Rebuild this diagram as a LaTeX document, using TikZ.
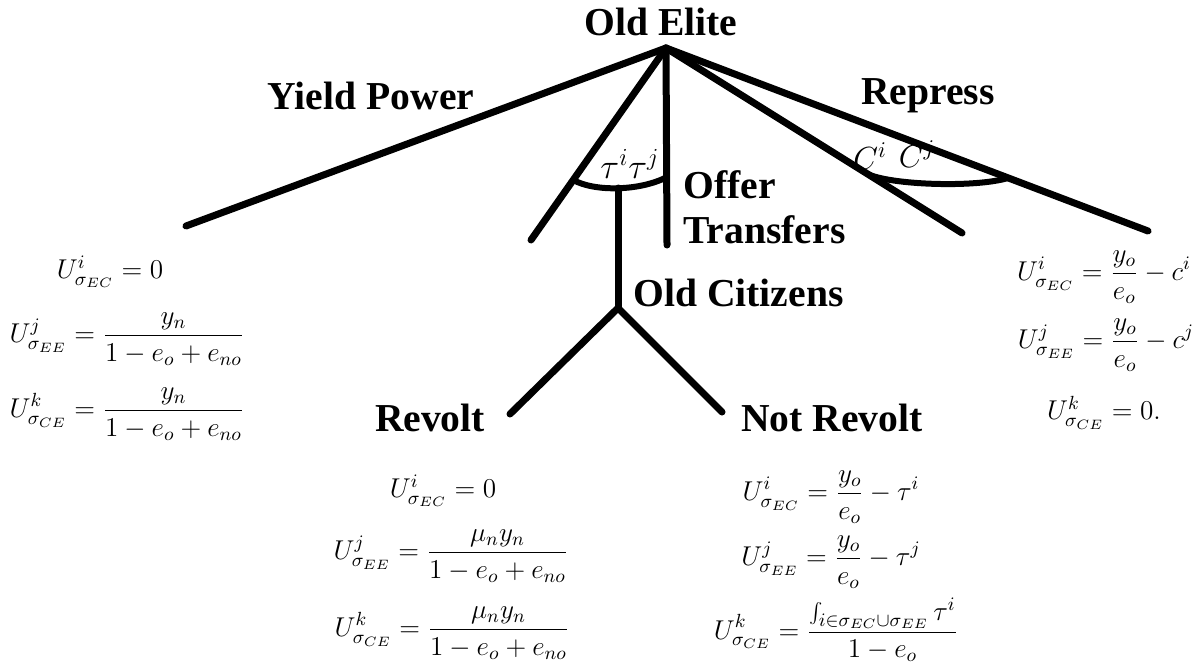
\RequirePackage{fix-cm}
\documentclass[tikz,border=0pt]{standalone}
\usepackage{fontspec}
\newfontfamily\labfont{Liberation Serif}
\usetikzlibrary{calc}
\tikzset{
  branch/.style={line width=3.5pt, line cap=round},
  arcline/.style={line width=3pt, line cap=round},
  lab/.style={font=\labfont\bfseries\fontsize{19.8}{22.5}\selectfont, inner sep=0pt},
  eq/.style={font=\fontsize{13.6}{16}\selectfont, inner sep=0pt},
  arclab/.style={font=\fontsize{16}{18}\selectfont, inner sep=0pt}
}
\begin{document}
\begin{tikzpicture}[x=0.5pt,y=-0.5pt]
\useasboundingbox (0,0) rectangle (1203,664);
% labels
\node[lab] (elite) at (661,22) {Old Elite};
\node[lab] (yield) at (371,96) {Yield Power};
\node[lab] (repress) at (928,96) {Repress};
\node[lab, align=left, anchor=north west] (offer) at (683,170) {Offer\\Transfers};
\node[lab, anchor=west] (citizens) at (633,293) {Old Citizens};
\node[lab] (revolt) at (430,418) {Revolt};
\node[lab] (notrevolt) at (832,418) {Not Revolt};
% tree points
\coordinate (apex) at (666,48);
\coordinate (yend) at (186,226);
\coordinate (tlend) at (531,240);
\coordinate (vend) at (667,245);
\coordinate (clend) at (962,233);
\coordinate (rend) at (1148,231);
\coordinate (taul) at ($(apex)!0.6875!(tlend)$);
\coordinate (taur) at (667,177);
\coordinate (taumid) at (618,188);
\coordinate (junction) at (618,308);
\coordinate (revend) at (510,414);
\coordinate (nrevend) at (722,412);
\coordinate (cl) at ($(apex)!0.68!(clend)$);
\coordinate (cr) at ($(apex)!0.71!(rend)$);
% branches
\draw[branch] (apex) -- (yend);
\draw[branch] (apex) -- (tlend);
\draw[branch] (apex) -- (vend);
\draw[branch] (apex) -- (clend);
\draw[branch] (apex) -- (rend);
\draw[arcline] (taul) .. controls (595,192) and (640,191) .. (taur);
\draw[branch] (taumid) -- (junction);
\draw[branch] (junction) -- (revend);
\draw[branch] (junction) -- (nrevend);
\draw[arcline] (cl) .. controls (890,185) and (975,188) .. (cr);
% arc labels
\node[arclab, font=\fontsize{17.5}{19}\selectfont] (tau) at (630,164) {$\tau^{i}\tau^{j}$};
\node[arclab] (ci) at (870,156) {$C^{i}$};
\node[arclab] (cj) at (917,154) {$C^{j}$};
% left payoffs
\node[eq] (l1) at (110,272) {$U^{i}_{\sigma_{EC}} = 0$};
\node[eq] (l2) at (127,339) {$\displaystyle U^{j}_{\sigma_{EE}} = \frac{y_n}{1-e_o+e_{no}}$};
\node[eq] (l3) at (127,414) {$\displaystyle U^{k}_{\sigma_{CE}} = \frac{y_n}{1-e_o+e_{no}}$};
% right payoffs
\node[eq] (r1) at (1104,277) {$\displaystyle U^{i}_{\sigma_{EC}} = \frac{y_o}{e_o} - c^{i}$};
\node[eq] (r2) at (1106,345) {$\displaystyle U^{j}_{\sigma_{EE}} = \frac{y_o}{e_o} - c^{j}$};
\node[eq] (r3) at (1104,413) {$U^{k}_{\sigma_{CE}} = 0.$};
% revolt payoffs
\node[eq] (v1) at (443,491) {$U^{i}_{\sigma_{EC}} = 0$};
\node[eq] (v2) at (451,556) {$\displaystyle U^{j}_{\sigma_{EE}} = \frac{\mu_n y_n}{1-e_o+e_{no}}$};
\node[eq] (v3) at (452,633) {$\displaystyle U^{k}_{\sigma_{CE}} = \frac{\mu_n y_n}{1-e_o+e_{no}}$};
% not revolt payoffs
\node[eq] (n1) at (831,497) {$\displaystyle U^{i}_{\sigma_{EC}} = \frac{y_o}{e_o} - \tau^{i}$};
\node[eq] (n2) at (831,562) {$\displaystyle U^{j}_{\sigma_{EE}} = \frac{y_o}{e_o} - \tau^{j}$};
\node[eq] (n3) at (836,630) {$\displaystyle U^{k}_{\sigma_{CE}} = \frac{\int_{i\in\sigma_{EC}\cup\sigma_{EE}}\tau^{i}}{1-e_o}$};
\end{tikzpicture}
\end{document}
